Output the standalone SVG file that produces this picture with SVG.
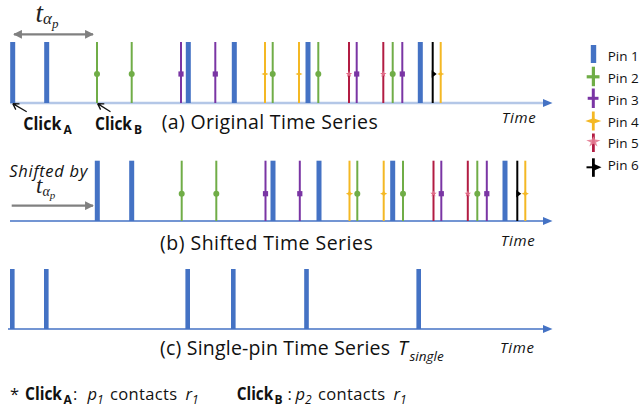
<svg xmlns="http://www.w3.org/2000/svg" xmlns:xlink="http://www.w3.org/1999/xlink" width="640" height="413" viewBox="0 0 640 413">
  <defs>
    <style>
      .lbl { font-family: "Open Sans", "Liberation Sans", sans-serif; fill: #111; }
      .cap { font-size: 19.5px; }
      .time { font-size: 15px; font-style: italic; }
      .bold { font-weight: bold; }
      .ital { font-style: italic; }
      .math { font-family: "Liberation Serif", "DejaVu Serif", serif; font-style: italic; fill: #222; }
      .pin { font-size: 13.5px; }
      .bar { fill: #4472C4; }
      .g { stroke: #70AD47; stroke-width: 2; }
      .p { stroke: #7A35A4; stroke-width: 2; }
      .y { stroke: #F4B824; stroke-width: 2; }
      .r { stroke: #B21C43; stroke-width: 2; }
      .k { stroke: #000; stroke-width: 2; }
      .axis-a { stroke: #B4C7E7; stroke-width: 2.5; }
      .axis { stroke: #4472C4; stroke-width: 1.6; }
      .gray { stroke: #808080; stroke-width: 2.2; fill: none; }
      .click { stroke: #111; stroke-width: 1.3; fill: none; }
    </style>
    <!-- event markers -->
    <circle id="mk-g" r="3" fill="#70AD47"/>
    <rect id="mk-p" x="-2.6" y="-2.6" width="5.2" height="5.2" fill="#7A35A4"/>
    <path id="mk-y" d="M0,-3.6 L1.1,-1.1 L3.6,0 L1.1,1.1 L0,3.6 L-1.1,1.1 L-3.6,0 L-1.1,-1.1 Z" fill="#F4B824"/>
    <path id="mk-r" d="M0,-3.2 L0.9,-1 L3.2,-1 L1.4,0.5 L2,2.8 L0,1.4 L-2,2.8 L-1.4,0.5 L-3.2,-1 L-0.9,-1 Z" fill="#E06A86"/>
    <path id="mk-k" d="M-1,-3.8 L4,0 L-1,3.8 Z" fill="#000"/>
    <marker id="ah-gray" viewBox="0 0 10 10" refX="9" refY="5" markerWidth="4" markerHeight="4" orient="auto-start-reverse">
      <path d="M0,0 L10,5 L0,10 Z" fill="#808080"/>
    </marker>
  </defs>

  <rect width="640" height="413" fill="#fff"/>

  <!-- interval annotation above row (a) -->
  <g id="interval">
    <line class="gray" x1="14" y1="34.3" x2="93" y2="34.3" marker-start="url(#ah-gray)" marker-end="url(#ah-gray)"/>
    <text class="math" x="35.5" y="22" font-size="27">t<tspan font-size="17" dy="2">α</tspan><tspan font-size="13" dy="4">p</tspan></text>
  </g>

  <!-- row (a): original series -->
  <g id="row-a">
    <line class="axis-a" x1="10" y1="103" x2="545" y2="103"/>
    <polygon points="543,99 552.5,103 543,107" fill="#4472C4"/>
    <g class="events">
      <rect class="bar" x="10.2" y="42" width="5" height="61"/>
      <rect class="bar" x="44.2" y="42" width="5" height="61"/>
      <rect class="bar" x="185.8" y="42" width="5" height="61"/>
      <rect class="bar" x="231.8" y="42" width="5" height="61"/>
      <rect class="bar" x="305.5" y="42" width="5" height="61"/>
      <rect class="bar" x="417.8" y="42" width="5" height="61"/>
      <line class="g" x1="97" y1="42" x2="97" y2="103"/><use href="#mk-g" x="97" y="74"/>
      <line class="g" x1="131.7" y1="42" x2="131.7" y2="103"/><use href="#mk-g" x="131.7" y="74"/>
      <line class="g" x1="272.7" y1="42" x2="272.7" y2="103"/><use href="#mk-g" x="272.7" y="74"/>
      <line class="g" x1="318.3" y1="42" x2="318.3" y2="103"/><use href="#mk-g" x="318.3" y="74"/>
      <line class="g" x1="392.7" y1="42" x2="392.7" y2="103"/><use href="#mk-g" x="392.7" y="74"/>
      <line class="p" x1="181" y1="42" x2="181" y2="103"/><use href="#mk-p" x="181" y="74"/>
      <line class="p" x1="215.3" y1="42" x2="215.3" y2="103"/><use href="#mk-p" x="215.3" y="74"/>
      <line class="p" x1="356.7" y1="42" x2="356.7" y2="103"/><use href="#mk-p" x="356.7" y="74"/>
      <line class="p" x1="402.3" y1="42" x2="402.3" y2="103"/><use href="#mk-p" x="402.3" y="74"/>
      <line class="y" x1="265" y1="42" x2="265" y2="103"/><use href="#mk-y" x="265" y="74"/>
      <line class="y" x1="299" y1="42" x2="299" y2="103"/><use href="#mk-y" x="299" y="74"/>
      <line class="y" x1="440.7" y1="42" x2="440.7" y2="103"/><use href="#mk-y" x="440.7" y="74"/>
      <line class="r" x1="349" y1="42" x2="349" y2="103"/><use href="#mk-r" x="349" y="74"/>
      <line class="r" x1="383.3" y1="42" x2="383.3" y2="103"/><use href="#mk-r" x="383.3" y="74"/>
      <line class="k" x1="432.7" y1="42" x2="432.7" y2="103"/><use href="#mk-k" x="432.7" y="74"/>
    </g>
    <!-- click pointers -->
    <path class="click" d="M26.7,111.7 L12.8,103.6 M12.8,103.6 L19.5,103.8 M12.8,103.6 L15.8,109.6"/>
    <path class="click" d="M110.5,111.7 L97.6,103.6 M97.6,103.6 L104.3,103.8 M97.6,103.6 L100.6,109.6"/>
    <text class="lbl bold" x="23.3" y="130" font-size="18"><tspan textLength="38" lengthAdjust="spacingAndGlyphs">Click</tspan><tspan x="63.5" y="133.5" font-size="12">A</tspan></text>
    <text class="lbl bold" x="95" y="130" font-size="18"><tspan textLength="37" lengthAdjust="spacingAndGlyphs">Click</tspan><tspan x="134" y="133.5" font-size="12">B</tspan></text>
    <text class="lbl cap" x="161.7" y="128.5" textLength="216">(a) Original Time Series</text>
    <text class="lbl time" x="501.7" y="123" textLength="34">Time</text>
  </g>

  <!-- row (b): shifted series -->
  <g id="row-b">
    <line class="axis" x1="10" y1="221" x2="545" y2="221"/>
    <polygon points="543,217 552.5,221 543,225" fill="#4472C4"/>
    <g class="events">
      <rect class="bar" x="94.8" y="160.7" width="5" height="60.3"/>
      <rect class="bar" x="129.2" y="160.7" width="5" height="60.3"/>
      <rect class="bar" x="270.5" y="160.7" width="5" height="60.3"/>
      <rect class="bar" x="316.5" y="160.7" width="5" height="60.3"/>
      <rect class="bar" x="390.2" y="160.7" width="5" height="60.3"/>
      <rect class="bar" x="502.5" y="160.7" width="5" height="60.3"/>
      <line class="g" x1="181.7" y1="160.7" x2="181.7" y2="221"/><use href="#mk-g" x="181.7" y="193.7"/>
      <line class="g" x1="216.3" y1="160.7" x2="216.3" y2="221"/><use href="#mk-g" x="216.3" y="193.7"/>
      <line class="g" x1="357.3" y1="160.7" x2="357.3" y2="221"/><use href="#mk-g" x="357.3" y="193.7"/>
      <line class="g" x1="403" y1="160.7" x2="403" y2="221"/><use href="#mk-g" x="403" y="193.7"/>
      <line class="g" x1="477.3" y1="160.7" x2="477.3" y2="221"/><use href="#mk-g" x="477.3" y="193.7"/>
      <line class="p" x1="265.5" y1="160.7" x2="265.5" y2="221"/><use href="#mk-p" x="265.5" y="193.7"/>
      <line class="p" x1="299.8" y1="160.7" x2="299.8" y2="221"/><use href="#mk-p" x="299.8" y="193.7"/>
      <line class="p" x1="441.3" y1="160.7" x2="441.3" y2="221"/><use href="#mk-p" x="441.3" y="193.7"/>
      <line class="p" x1="486.8" y1="160.7" x2="486.8" y2="221"/><use href="#mk-p" x="486.8" y="193.7"/>
      <line class="y" x1="349.5" y1="160.7" x2="349.5" y2="221"/><use href="#mk-y" x="349.5" y="193.7"/>
      <line class="y" x1="383.7" y1="160.7" x2="383.7" y2="221"/><use href="#mk-y" x="383.7" y="193.7"/>
      <line class="y" x1="525.3" y1="160.7" x2="525.3" y2="221"/><use href="#mk-y" x="525.3" y="193.7"/>
      <line class="r" x1="433.5" y1="160.7" x2="433.5" y2="221"/><use href="#mk-r" x="433.5" y="193.7"/>
      <line class="r" x1="467.8" y1="160.7" x2="467.8" y2="221"/><use href="#mk-r" x="467.8" y="193.7"/>
      <line class="k" x1="517.3" y1="160.7" x2="517.3" y2="221"/><use href="#mk-k" x="517.3" y="193.7"/>
    </g>
    <!-- shift annotation -->
    <text class="lbl ital" x="9.3" y="176.5" font-size="16.5" textLength="78">Shifted by</text>
    <text class="math" x="36" y="193.3" font-size="23">t<tspan font-size="14" dy="2.5">α</tspan><tspan font-size="11" dy="3.5">p</tspan></text>
    <line class="gray" x1="11.7" y1="205.7" x2="93" y2="205.7" marker-end="url(#ah-gray)"/>
    <text class="lbl cap" x="160" y="249.5" textLength="212.7">(b) Shifted Time Series</text>
    <text class="lbl time" x="500.7" y="246" textLength="34">Time</text>
  </g>

  <!-- row (c): single-pin series -->
  <g id="row-c">
    <line class="axis" x1="8" y1="329" x2="545" y2="329"/>
    <polygon points="543,325 552.5,329 543,333" fill="#4472C4"/>
    <g class="events">
      <rect class="bar" x="10" y="269" width="4.6" height="60"/>
      <rect class="bar" x="44" y="269" width="4.6" height="60"/>
      <rect class="bar" x="185.4" y="269" width="4.6" height="60"/>
      <rect class="bar" x="231" y="269" width="4.6" height="60"/>
      <rect class="bar" x="304.2" y="269" width="4.6" height="60"/>
      <rect class="bar" x="416.4" y="269" width="4.6" height="60"/>
    </g>
    <text class="lbl cap" x="160" y="355"><tspan textLength="230">(c) Single-pin Time Series</tspan><tspan class="ital" x="398" font-size="19.5">T</tspan><tspan class="ital" x="409.5" y="360.5" font-size="13.5">single</tspan></text>
    <text class="lbl time" x="500" y="353" textLength="34">Time</text>
  </g>

  <!-- legend -->
  <g id="legend">
    <g id="legend-pin1">
      <rect x="590.8" y="45" width="5.4" height="18" fill="#4472C4"/>
      <text class="lbl pin" x="607.7" y="61">Pin 1</text>
    </g>
    <g id="legend-pin2">
      <rect x="591.8" y="66.7" width="3.2" height="19.5" fill="#70AD47"/>
      <rect x="586.7" y="75.2" width="12.8" height="3.2" fill="#70AD47"/>
      <text class="lbl pin" x="607.7" y="83">Pin 2</text>
    </g>
    <g id="legend-pin3">
      <rect x="591.8" y="88.5" width="3" height="19.5" fill="#7A35A4"/>
      <rect x="587.7" y="96.8" width="10.8" height="3" fill="#7A35A4"/>
      <text class="lbl pin" x="607.7" y="104.8">Pin 3</text>
    </g>
    <g id="legend-pin4">
      <rect x="591.9" y="111.5" width="2.8" height="19" fill="#F4B824"/>
      <path d="M585.3,121 L593.3,118.3 L601.3,121 L593.3,123.7 Z" fill="#F4B824"/>
      <text class="lbl pin" x="607.7" y="126.6">Pin 4</text>
    </g>
    <g id="legend-pin5">
      <rect x="592" y="133.5" width="2.8" height="18.5" fill="#B21C43"/>
      <path d="M593.4,136.2 L595,139.6 L600.5,140.2 L596,142.5 L597.5,146.5 L593.4,143.8 L589.3,146.5 L590.8,142.5 L586.3,140.2 L591.8,139.6 Z" fill="#E47C92" opacity="0.9"/>
      <text class="lbl pin" x="607.7" y="148.4">Pin 5</text>
    </g>
    <g id="legend-pin6">
      <rect x="592" y="158.3" width="2.8" height="18.5" fill="#000"/>
      <line x1="586.5" y1="167.3" x2="593" y2="167.3" stroke="#000" stroke-width="2"/>
      <polygon points="593,163.6 601.5,167.3 593,171" fill="#000"/>
      <text class="lbl pin" x="607.7" y="170.2">Pin 6</text>
    </g>
  </g>

  <!-- footnote -->
  <g id="footnote">
    <text class="lbl" y="400" font-size="16.5">
      <tspan x="10">*</tspan>
      <tspan class="bold" x="25" font-size="18" textLength="37" lengthAdjust="spacingAndGlyphs">Click</tspan>
      <tspan class="bold" x="63.5" y="403.5" font-size="12">A</tspan>
      <tspan x="73" y="400">:</tspan>
      <tspan class="ital" x="87.5">p</tspan>
      <tspan class="ital" x="97" y="403.5" font-size="12">1</tspan>
      <tspan x="110" y="400" textLength="67">contacts</tspan>
      <tspan class="ital" x="185.5">r</tspan>
      <tspan class="ital" x="192" y="403.5" font-size="12">1</tspan>
      <tspan class="bold" x="236.7" y="400" font-size="18" textLength="36.5" lengthAdjust="spacingAndGlyphs">Click</tspan>
      <tspan class="bold" x="274.5" y="403.5" font-size="12">B</tspan>
      <tspan x="287.5" y="400">:</tspan>
      <tspan class="ital" x="295.5">p</tspan>
      <tspan class="ital" x="305" y="403.5" font-size="12">2</tspan>
      <tspan x="318" y="400" textLength="67">contacts</tspan>
      <tspan class="ital" x="393.5">r</tspan>
      <tspan class="ital" x="400" y="403.5" font-size="12">1</tspan>
    </text>
  </g>
</svg>
